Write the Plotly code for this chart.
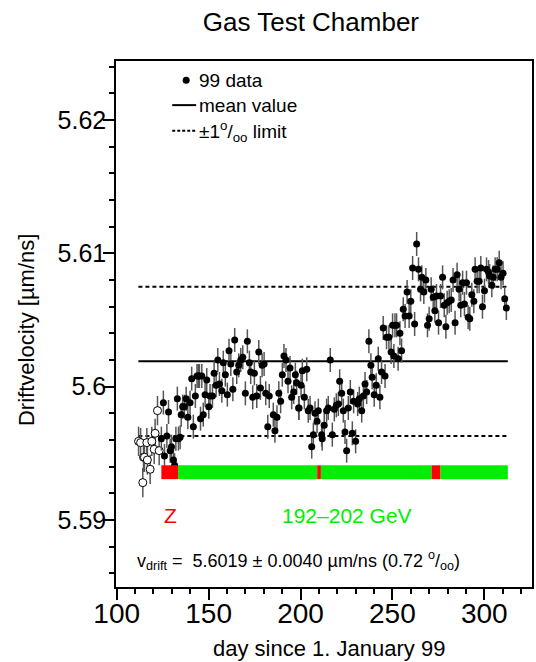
import plotly.graph_objects as go

# ---------------- data ----------------
open_day = [111.9, 113.0, 114.2, 114.6, 115.1, 116.4, 116.7, 118.2, 119.1, 120.4, 120.9, 122.2, 123.1]
open_v = [5.5959, 5.5958, 5.5928, 5.5947, 5.5947, 5.5958, 5.5945, 5.5938, 5.5959, 5.5953, 5.5965, 5.5982, 5.5952]

day = [
    124.3, 125.4, 126.0, 127.3, 128.2, 129.1, 129.8, 130.9, 131.5, 132.2, 133.0, 133.6, 134.5, 135.1,
    135.9, 136.8, 137.8, 138.7, 139.9, 140.8, 141.7, 142.8, 143.7, 144.4, 145.0, 145.6,
    146.3, 147.1, 148.1, 149.0, 150.1, 150.8, 152.1, 153.0, 154.1, 155.0, 155.9, 157.2, 158.0, 159.1,
    160.2, 161.1, 162.1, 163.2, 164.2, 165.3, 166.4, 167.5, 168.6, 170.0, 171.1, 172.2, 172.9, 174.0,
    174.9, 176.2, 177.3, 178.2, 179.1, 180.2, 181.1, 182.2, 183.0, 185.2, 186.1, 187.2, 188.2, 189.2,
    190.1, 191.0, 192.1, 193.2, 194.3, 195.2, 196.3, 197.2, 197.9, 199.0,
    199.2, 200.3, 201.0, 202.1, 203.4, 204.2, 205.2, 206.1, 207.0, 207.9, 209.0, 209.7, 211.5, 211.8,
    212.9, 214.2, 215.1, 216.2, 217.3, 218.4, 219.5, 220.6, 221.3, 222.4, 223.3, 224.2, 225.1, 226.0,
    227.1, 228.2, 228.9, 230.0, 231.1, 232.0, 233.3, 234.2, 235.1, 236.0, 237.2, 238.3, 239.0, 240.1,
    241.2, 242.3, 243.2, 244.1, 245.0, 246.0, 246.8, 248.1, 249.3,
    250.1, 250.8, 251.4, 252.3, 253.1, 254.1, 255.0, 255.9, 256.9, 258.0, 259.1, 260.0, 261.0, 262.1,
    263.2, 264.2, 265.3, 266.0, 267.1, 268.2, 269.1, 270.0, 271.1, 272.2, 273.1, 274.0, 275.1, 276.2,
    277.3, 278.2, 279.1, 279.8, 280.9, 282.0, 283.0, 284.1, 285.2, 286.3, 287.2, 288.2, 289.2, 290.3,
    291.2, 292.1, 293.2, 294.3, 295.0, 296.1, 297.2, 298.1, 299.0, 300.1, 301.2, 302.3, 302.9, 304.1,
    304.8, 305.9, 307.0, 308.1, 309.1, 310.2, 311.1, 312.0,
]
vdrift = [
    5.5961, 5.5988, 5.5948, 5.5963, 5.5981, 5.5952, 5.5955, 5.5945, 5.5941, 5.5961, 5.5991, 5.5961, 5.5962, 5.5979,
    5.5985, 5.5985, 5.5991, 5.5977, 5.5988, 5.6006, 5.5970, 5.5993, 5.6008, 5.6008, 5.6008, 5.5976,
    5.6008, 5.5979, 5.5994, 5.6005, 5.5985, 5.5993, 5.5993, 5.6010, 5.6001, 5.6020, 5.6002, 5.5997, 5.6018, 5.6009,
    5.5994, 5.6027, 5.6017, 5.5998, 5.6035, 5.6011, 5.6016, 5.6020, 5.6022, 5.5995, 5.6034, 5.6018, 5.6011, 5.5992,
    5.6010, 5.5993, 5.6026, 5.5999, 5.6016, 5.6017, 5.5995, 5.5970, 5.5993, 5.5979, 5.5967, 5.5977, 5.5995, 5.5989,
    5.6009, 5.6023, 5.6020, 5.6004, 5.6014, 5.5992, 5.5996, 5.6009, 5.6003, 5.5984,
    5.5984, 5.6001, 5.6012, 5.5992, 5.6013, 5.5982, 5.5984, 5.5955, 5.5964, 5.5980, 5.5974, 5.5982, 5.5964, 5.5961,
    5.5971, 5.5982, 5.5984, 5.6020, 5.5964, 5.5983, 5.5986, 5.5987, 5.6004, 5.5995, 5.5982, 5.5966, 5.5952, 5.5984,
    5.5996, 5.5965, 5.5989, 5.5959, 5.5987, 5.5991, 5.5982, 5.5993, 5.6002, 5.5996, 5.6034, 5.6016, 5.6007, 5.5994,
    5.6001, 5.6021, 5.5992, 5.6011, 5.6044, 5.6008, 5.6037, 5.6037, 5.6026,
    5.6046, 5.6023, 5.6046, 5.6046, 5.6021, 5.6040, 5.6027, 5.6058, 5.6053, 5.6071, 5.6053, 5.6064, 5.6089, 5.6047,
    5.6107, 5.6088, 5.6073, 5.6082, 5.6071, 5.6080, 5.6046, 5.6051, 5.6073, 5.6067, 5.6057, 5.6068, 5.6048, 5.6068,
    5.6082, 5.6061, 5.6045, 5.6063, 5.6064, 5.6065, 5.6080, 5.6048, 5.6084, 5.6073, 5.6061, 5.6078, 5.6062, 5.6078,
    5.6052, 5.6051, 5.6069, 5.6064, 5.6088, 5.6079, 5.6079, 5.6089, 5.6060, 5.6072, 5.6088, 5.6086, 5.6083, 5.6076,
    5.6082, 5.6088, 5.6088, 5.6093, 5.6082, 5.6085, 5.6066, 5.6059,
]
ERR_FILLED = 0.0009
ERR_OPEN = 0.0011

MEAN_V = 5.6019
RMS_V = 0.0040
LIMIT = 0.001  # 1 per mille
line_days = [111.8, 312.8]

# beam-condition bar segments
seg_start = [124.3, 133.4, 209.1, 211.1, 271.3, 276.2]
seg_end = [133.4, 209.1, 211.1, 271.3, 276.2, 312.8]
seg_color = ["#ff0000", "#00ee00", "#ff0000", "#00ee00", "#ff0000", "#00ee00"]
BAR_V = 5.59358
BAR_H = 0.00104

x_ticks = [100, 150, 200, 250, 300]
y_ticks = [5.59, 5.60, 5.61, 5.62]
y_tick_text = ["5.59", "5.6", "5.61", "5.62"]

FONT = "Liberation Sans, Arial, sans-serif"

fig = go.Figure()

# mean and limit lines
fig.add_trace(go.Scatter(x=line_days, y=[MEAN_V, MEAN_V], mode="lines",
                         line=dict(color="black", width=2), showlegend=False, hoverinfo="skip"))
for f in (1 + LIMIT, 1 - LIMIT):
    fig.add_trace(go.Scatter(x=line_days, y=[MEAN_V * f, MEAN_V * f], mode="lines",
                             line=dict(color="black", width=2, dash="4px,3px"),
                             showlegend=False, hoverinfo="skip"))

# data points
fig.add_trace(go.Scatter(x=open_day, y=open_v, mode="markers",
                         marker=dict(symbol="circle", size=8, color="white",
                                     line=dict(color="black", width=1)),
                         error_y=dict(type="constant", value=ERR_OPEN, color="#555555",
                                      thickness=1.5, width=0),
                         showlegend=False))
fig.add_trace(go.Scatter(x=day, y=vdrift, mode="markers",
                         marker=dict(symbol="circle", size=7, color="black"),
                         error_y=dict(type="constant", value=ERR_FILLED, color="#555555",
                                      thickness=1.5, width=0),
                         showlegend=False))

# colored bar
for s, e, c in zip(seg_start, seg_end, seg_color):
    fig.add_shape(type="rect", xref="x", yref="y", x0=s, x1=e,
                  y0=BAR_V - BAR_H / 2, y1=BAR_V + BAR_H / 2,
                  fillcolor=c, line=dict(width=0), layer="above")

# manual legend
fig.add_trace(go.Scatter(x=[137.8], y=[5.62299], mode="markers",
                         marker=dict(size=7, color="black"), showlegend=False, hoverinfo="skip"))
fig.add_shape(type="line", xref="x", yref="y", x0=130.2, x1=143.2, y0=5.62112, y1=5.62112,
              line=dict(color="black", width=2))
fig.add_shape(type="line", xref="x", yref="y", x0=130.2, x1=143.2, y0=5.6192, y1=5.6192,
              line=dict(color="black", width=2, dash="3px,2px"))
legend_text = ["99 data", "mean value", "±1<sup>o</sup>/<sub>oo</sub> limit"]
legend_y = [5.62299, 5.62112, 5.61915]
for t, yy in zip(legend_text, legend_y):
    fig.add_annotation(x=143.8, y=yy, text=t, showarrow=False, xanchor="left", yanchor="middle",
                       font=dict(family=FONT, size=19, color="black"))

fig.add_annotation(x=129.1, y=5.59037, text="Z", showarrow=False,
                   font=dict(family=FONT, size=21, color="#ff0000"))
fig.add_annotation(x=225.2, y=5.59037, text="192–202 GeV", showarrow=False,
                   font=dict(family=FONT, size=21, color="#00ee00"))
fig.add_annotation(x=110.2, y=5.58694, xanchor="left", yanchor="middle", showarrow=False,
                   text=f"v<sub>drift</sub> =  {MEAN_V:.4f} ± {RMS_V:.4f} µm/ns (0.72 <sup>o</sup>/<sub>oo</sub>)",
                   font=dict(family=FONT, size=18, color="black"))

# axis titles
fig.add_annotation(xref="paper", yref="paper", x=-0.2139, y=0.4886, textangle=-90,
                   xanchor="center", yanchor="middle",
                   text="Driftvelocity [µm/ns]", showarrow=False,
                   font=dict(family=FONT, size=22, color="black"))
fig.add_annotation(xref="paper", yref="paper", x=0.512, y=-0.116,
                   xanchor="center", yanchor="middle",
                   text="day since 1. January 99", showarrow=False,
                   font=dict(family=FONT, size=22, color="black"))

axis_common = dict(showline=True, linecolor="black", linewidth=1.5, mirror=True,
                   ticks="outside", ticklen=11, tickwidth=1.5, tickcolor="black",
                   showgrid=False, zeroline=False, automargin=False)

fig.update_layout(
    width=536, height=662,
    margin=dict(l=116, r=4, t=61, b=75),
    paper_bgcolor="white", plot_bgcolor="white",
    showlegend=False,
    title=dict(text="Gas Test Chamber", x=0.58, xanchor="center", y=0.967, yanchor="middle",
               font=dict(family=FONT, size=26, color="black")),
    xaxis=dict(range=[99.62, 325.95], tickvals=x_ticks,
               tickfont=dict(family=FONT, size=28, color="black"), ticklabelstandoff=-10,
               minor=dict(dtick=10, ticklen=5, tickwidth=1.5, tickcolor="black", ticks="outside"),
               **axis_common),
    yaxis=dict(range=[5.58497, 5.62443], tickvals=y_ticks, ticktext=y_tick_text,
               tickfont=dict(family=FONT, size=25, color="black"), ticklabelstandoff=-8,
               minor=dict(dtick=0.002, ticklen=5, tickwidth=1.5, tickcolor="black", ticks="outside"),
               **axis_common),
)

fig.write_html("out.html", config={"displayModeBar": False},
               post_script="document.body.style.margin='0px';document.body.style.overflow='hidden';")
